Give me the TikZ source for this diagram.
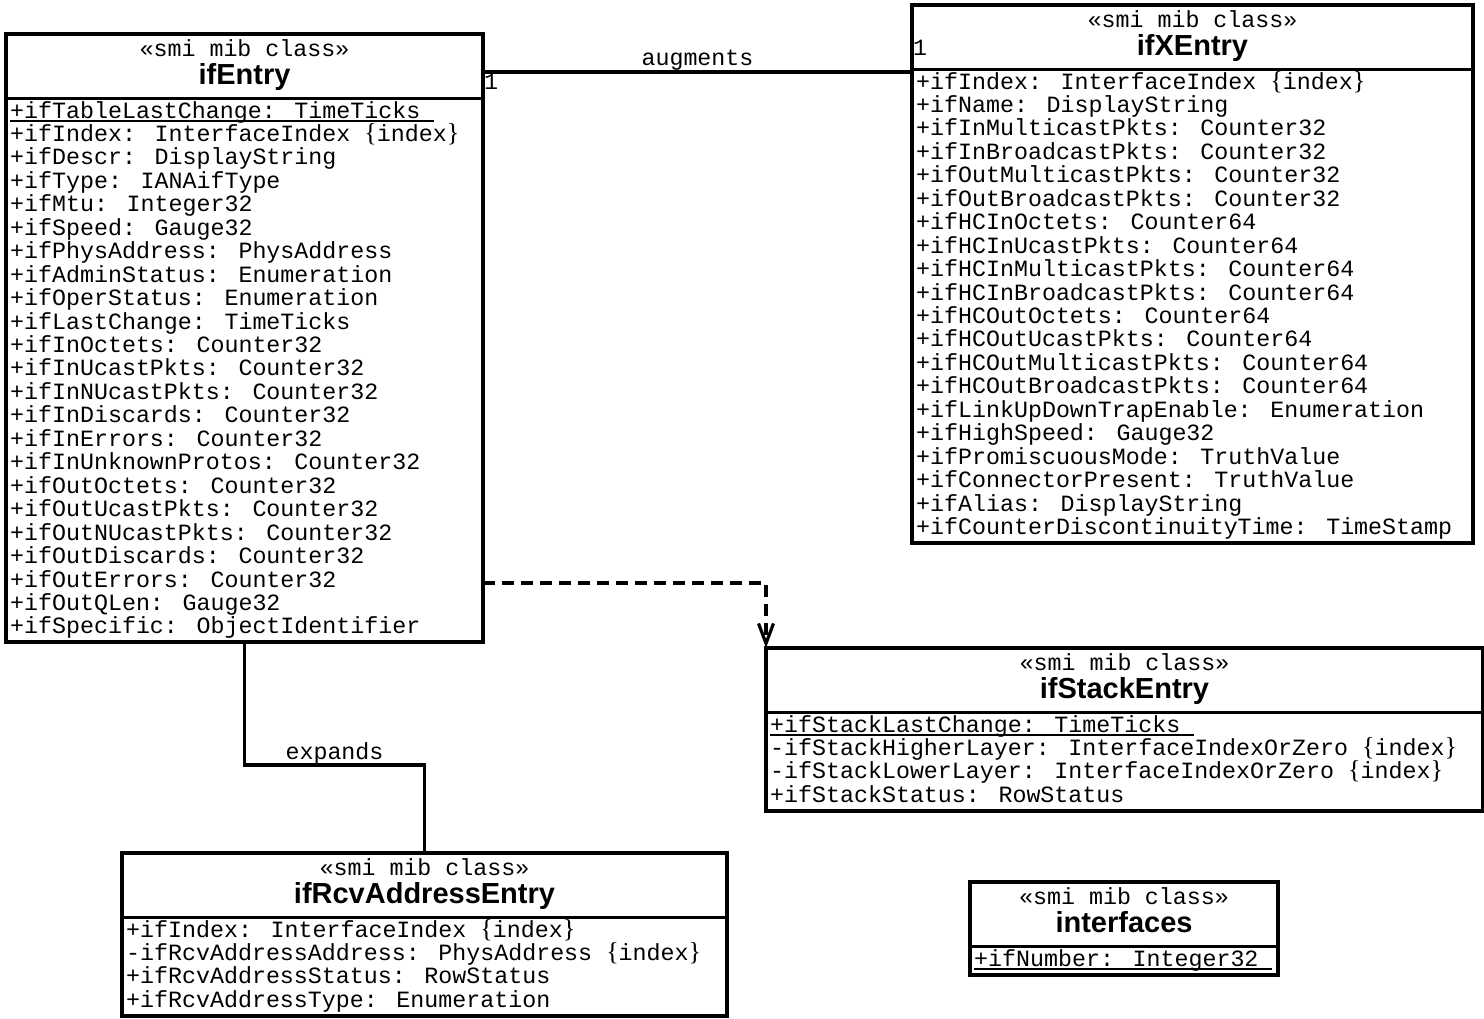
\documentclass[tikz,border=0pt]{standalone}
\usepackage{fontspec}
\usetikzlibrary{arrows.meta}

\newfontfamily\monofam{Liberation Mono}
\newfontfamily\serifbrace{Liberation Serif}
\newfontfamily\sansfam{Liberation Sans}
\newcommand\monof{\monofam\fontsize{23.3}{23.45}\selectfont}
\newcommand\titlef{\sansfam\bfseries\fontsize{29}{30}\selectfont}
% {index} marker, braces set in a serif face
\newcommand\brc[1]{{\serifbrace\fontsize{26}{26}\selectfont#1}}
\newcommand\idx{\brc{\{}index\brc{\}}}
% static (class-level) attribute: thin underline a little below the baseline
\newcommand\mibul[1]{\setbox0\hbox{#1}\rlap{\rule[-3.5pt]{\wd0}{1.2pt}}\box0}

\tikzset{
  classbox/.style={draw, line width=3.2pt, inner sep=0pt, outer sep=0pt},
  stereo/.style={font=\monof, inner sep=0pt},
  classtitle/.style={font=\titlef, inner sep=0pt},
  attr/.style={font=\monof, inner sep=0pt},
  divider/.style={line width=3.2pt},
  assoc/.style={line width=3.2pt},
  dep/.style={line width=3.2pt, dash pattern=on 12pt off 7pt,
    -{Straight Barb[length=20pt,width=15pt]}},
  lbl/.style={font=\monof, inner sep=0pt},
}

% #1 name/title, #2 left, #3 top, #4 right, #5 bottom, #6 attribute rows
\newcommand\mibclass[6]{%
  \node[classbox, anchor=north west, minimum width={#4-#2}, minimum height={#5-#3}]
    (#1) at (#2,-#3) {};
  \node[stereo, anchor=base] (#1-st) at ([yshift=-22.5pt]#1.north) {«smi mib class»};
  \node[classtitle, anchor=base] (#1-ti) at ([yshift=-50pt]#1.north) {#1};
  \draw[divider] ([yshift=-64.5pt]#1.north west) -- ([yshift=-64.5pt]#1.north east);
  \foreach \rowtxt [count=\rowno] in {#6}
    \node[attr, anchor=base west] (#1-r\rowno)
      at ([xshift=4pt, yshift={-84pt-(\rowno-1)*23.45pt}]#1.north west) {\rowtxt};
}

\begin{document}
\begin{tikzpicture}[x=1pt, y=1pt]
\useasboundingbox (0,0) rectangle (1484,-1018);

\mibclass{ifEntry}{6}{34}{483}{642}{
  {\mibul{+ifTableLastChange: TimeTicks\ }},
  {+ifIndex: InterfaceIndex \idx},
  {+ifDescr: DisplayString},
  {+ifType: IANAifType},
  {+ifMtu: Integer32},
  {+ifSpeed: Gauge32},
  {+ifPhysAddress: PhysAddress},
  {+ifAdminStatus: Enumeration},
  {+ifOperStatus: Enumeration},
  {+ifLastChange: TimeTicks},
  {+ifInOctets: Counter32},
  {+ifInUcastPkts: Counter32},
  {+ifInNUcastPkts: Counter32},
  {+ifInDiscards: Counter32},
  {+ifInErrors: Counter32},
  {+ifInUnknownProtos: Counter32},
  {+ifOutOctets: Counter32},
  {+ifOutUcastPkts: Counter32},
  {+ifOutNUcastPkts: Counter32},
  {+ifOutDiscards: Counter32},
  {+ifOutErrors: Counter32},
  {+ifOutQLen: Gauge32},
  {+ifSpecific: ObjectIdentifier}}

\mibclass{ifXEntry}{912}{5}{1473}{543}{
  {+ifIndex: InterfaceIndex \idx},
  {+ifName: DisplayString},
  {+ifInMulticastPkts: Counter32},
  {+ifInBroadcastPkts: Counter32},
  {+ifOutMulticastPkts: Counter32},
  {+ifOutBroadcastPkts: Counter32},
  {+ifHCInOctets: Counter64},
  {+ifHCInUcastPkts: Counter64},
  {+ifHCInMulticastPkts: Counter64},
  {+ifHCInBroadcastPkts: Counter64},
  {+ifHCOutOctets: Counter64},
  {+ifHCOutUcastPkts: Counter64},
  {+ifHCOutMulticastPkts: Counter64},
  {+ifHCOutBroadcastPkts: Counter64},
  {+ifLinkUpDownTrapEnable: Enumeration},
  {+ifHighSpeed: Gauge32},
  {+ifPromiscuousMode: TruthValue},
  {+ifConnectorPresent: TruthValue},
  {+ifAlias: DisplayString},
  {+ifCounterDiscontinuityTime: TimeStamp}}

\mibclass{ifStackEntry}{766}{648}{1483}{811}{
  {\mibul{+ifStackLastChange: TimeTicks\ }},
  {-ifStackHigherLayer: InterfaceIndexOrZero \idx},
  {-ifStackLowerLayer: InterfaceIndexOrZero \idx},
  {+ifStackStatus: RowStatus}}

\mibclass{ifRcvAddressEntry}{122}{853}{727}{1016}{
  {+ifIndex: InterfaceIndex \idx},
  {-ifRcvAddressAddress: PhysAddress \idx},
  {+ifRcvAddressStatus: RowStatus},
  {+ifRcvAddressType: Enumeration}}

\mibclass{interfaces}{970}{882}{1278}{975}{
  {\mibul{+ifNumber: Integer32\ }}}

% augments association with multiplicities
\coordinate (augY) at (0,-72);
\coordinate (augL) at (ifEntry.east |- augY);
\coordinate (augR) at (ifXEntry.west |- augY);
\draw[assoc] (augL) -- node[lbl, anchor=base, yshift=7pt] (augLbl) {augments} (augR);
\node[lbl, anchor=base west] (augM1) at ([xshift=1pt, yshift=-17pt]augL) {1};
\node[lbl, anchor=base west] (augM2) at ([xshift=1pt, yshift=17pt]augR) {1};

% dependency to ifStackEntry
\coordinate (depY) at (0,-583);
\draw[dep] (ifEntry.east |- depY) -| (ifStackEntry.north west);

% expands association
\coordinate (expY) at (0,-765);
\draw[assoc] (ifEntry.south) -- (ifEntry.south |- expY)
  -- node[lbl, anchor=base, yshift=6pt] (expLbl) {expands} (ifRcvAddressEntry.north |- expY)
  -- (ifRcvAddressEntry.north);
\end{tikzpicture}
\end{document}
